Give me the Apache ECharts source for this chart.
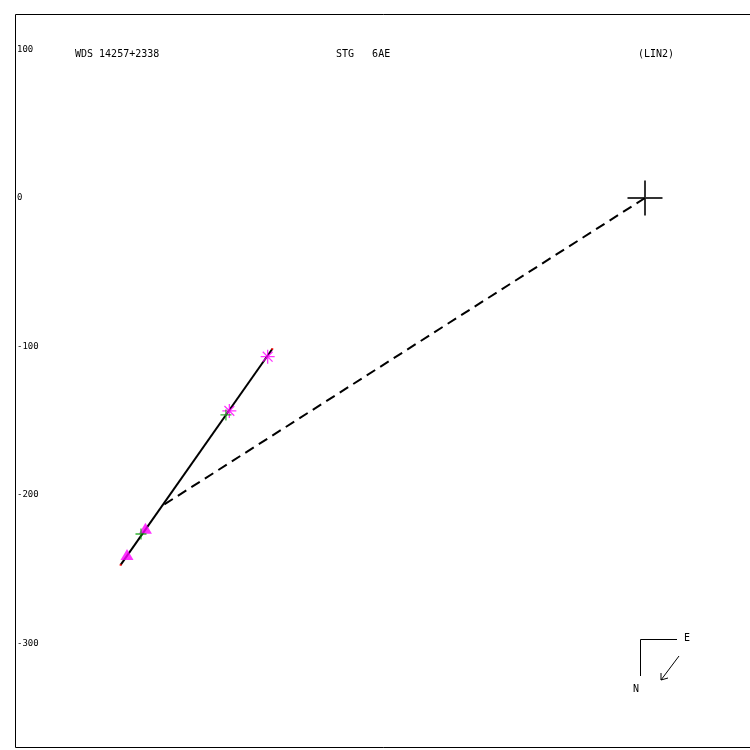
<!DOCTYPE html>
<html>
<head>
<meta charset="utf-8">
<script src="https://cdn.jsdelivr.net/npm/echarts@6/dist/echarts.min.js"></script>
<style>html,body{margin:0;padding:0;background:#fff}#c{width:750px;height:750px}</style>
</head>
<body>
<div id="c"></div>
<script>
// ---- data (plot units, origin = primary star) ----
var yTickValues = [100, 0, -100, -200, -300];
var primary = [[0, 0]];
var orbitLine = [[-353.1, -247.1], [-251.0, -101.7]];
var nodeLine = [[0, 0], [-325.3, -207.4]];
var triangles = [[-348.8, -240.1], [-336.4, -222.4]];
var asterisks = [[-254.1, -106.9], [-279.9, -143.4]];
var greenPlus = [[-339.4, -226.3], [-282.2, -146.1]];
var lineEnds = [[-353.1, -247.1], [-251.0, -101.7]];
var titleLeft = 'WDS 14257+2338';
var titleMid = 'STG   6AE';
var titleRight = '(LIN2)';

var chart = echarts.init(document.getElementById('c'));
var mono = 'DejaVu Sans Mono';
var asteriskPath = 'path://M0,5L10,5M5,0L5,10M1.5,1.5L8.5,8.5M1.5,8.5L8.5,1.5';
var plusPath = 'path://M0,5L10,5M5,0L5,10';

// scale: 1.485 px per unit; grid spans px 15..750 horizontally, 14..748 vertically
chart.setOption({
  animation: false,
  backgroundColor: '#fff',
  grid: {left: 15, top: 14, width: 735, height: 734, show: false},
  xAxis: {type: 'value', min: -424.24, max: 70.71, show: true,
    axisLine: {show: false}, axisTick: {show: false}, axisLabel: {show: false}, splitLine: {show: false}},
  yAxis: {type: 'value', min: -370.4, max: 123.9,
    axisLine: {show: false}, axisTick: {show: false}, splitLine: {show: false},
    axisLabel: {show: true, inside: true, customValues: yTickValues, fontFamily: mono, fontSize: 9, color: '#000', margin: 2,
      formatter: function (v) { return String(v); }}},
  series: [
    {type: 'line', data: nodeLine, symbol: 'none', lineStyle: {color: '#000', width: 2, type: [10, 6]}, z: 2},
    {type: 'line', data: orbitLine, symbol: 'none', lineStyle: {color: '#000', width: 2}, z: 3},
    {type: 'scatter', data: triangles, symbol: 'triangle', symbolSize: [13, 11], itemStyle: {color: '#ff00ff'}, z: 4},
    {type: 'scatter', data: asterisks, symbol: asteriskPath, symbolSize: 14, itemStyle: {color: 'rgba(0,0,0,0)', borderColor: '#ff00ff', borderWidth: 1.3}, z: 4},
    {type: 'scatter', data: greenPlus, symbol: plusPath, symbolSize: 11, itemStyle: {color: 'rgba(0,0,0,0)', borderColor: '#00a000', borderWidth: 1.3}, z: 5},
    {type: 'scatter', data: lineEnds, symbol: 'rect', symbolSize: 2, itemStyle: {color: '#ff0000'}, z: 6},
    {type: 'scatter', data: primary, symbol: plusPath, symbolSize: 35, itemStyle: {color: 'rgba(0,0,0,0)', borderColor: '#000', borderWidth: 2}, z: 6}
  ],
  graphic: [
    {type: 'polyline', shape: {points: [[751, 14.5], [15.5, 14.5], [15.5, 747.5], [751, 747.5]]}, style: {stroke: '#000', lineWidth: 1, fill: null}},
    {type: 'text', left: 75, top: 49, style: {text: titleLeft, font: '10px "DejaVu Sans Mono"', fill: '#000'}},
    {type: 'text', left: 336, top: 49, style: {text: titleMid, font: '10px "DejaVu Sans Mono"', fill: '#000'}},
    {type: 'text', left: 638, top: 49, style: {text: titleRight, font: '10px "DejaVu Sans Mono"', fill: '#000'}},
    {type: 'polyline', shape: {points: [[677, 639.5], [640.5, 639.5], [640.5, 676]]}, style: {stroke: '#000', lineWidth: 1, fill: null}},
    {type: 'text', left: 684, top: 633, style: {text: 'E', font: '10px "DejaVu Sans Mono"', fill: '#000'}},
    {type: 'text', left: 633, top: 684, style: {text: 'N', font: '10px "DejaVu Sans Mono"', fill: '#000'}},
    {type: 'line', shape: {x1: 679, y1: 656, x2: 661, y2: 680}, style: {stroke: '#000', lineWidth: 1}},
    {type: 'polyline', shape: {points: [[661, 673], [661, 680], [668, 678]]}, style: {stroke: '#000', lineWidth: 1, fill: null}}
  ]
});
</script>
</body>
</html>
